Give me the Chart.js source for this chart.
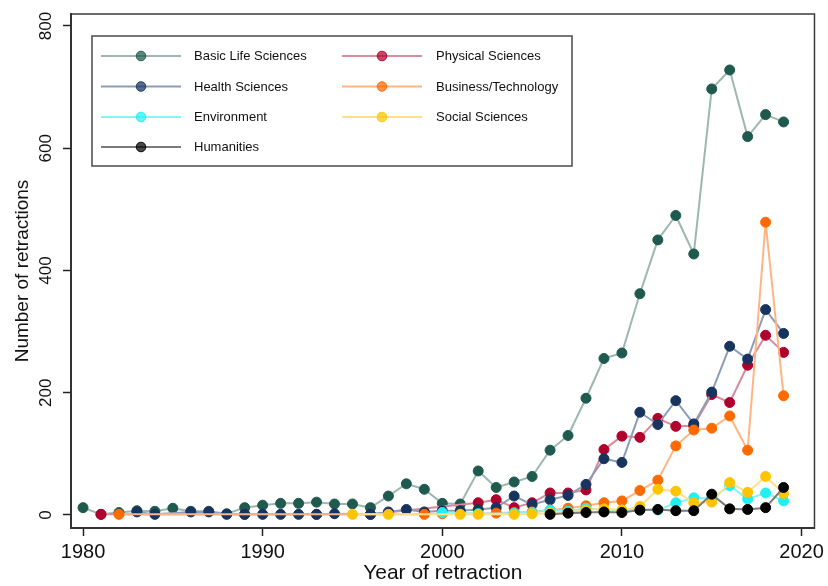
<!DOCTYPE html>
<html>
<head>
<meta charset="utf-8">
<script src="https://cdn.jsdelivr.net/npm/chart.js@4/dist/chart.umd.min.js"></script>
<style>
  html, body { margin: 0; padding: 0; background: #ffffff; }
  #wrap { width: 828px; height: 586px; }
</style>
</head>
<body>
<div id="wrap"><canvas id="c" width="828" height="586"></canvas></div>
<script>
// Retractions per year, by field (1980–2019). null = no retractions recorded that year.
const years = [1980,1981,1982,1983,1984,1985,1986,1987,1988,1989,
               1990,1991,1992,1993,1994,1995,1996,1997,1998,1999,
               2000,2001,2002,2003,2004,2005,2006,2007,2008,2009,
               2010,2011,2012,2013,2014,2015,2016,2017,2018,2019];

const basicLife = [12,1,4,7,6,11,6,6,2,12,
                   16,19,19,21,18,18,12,31,51,42,
                   19,18,72,45,54,63,106,130,191,256,
                   265,362,450,490,427,697,728,619,655,643];

const physical = [null,1,null,null,null,null,null,null,null,1,
                  null,null,null,1,null,null,1,null,null,null,
                  null,null,20,25,12,20,36,36,41,107,
                  129,127,158,145,146,197,184,245,294,266];

const health = [null,null,null,5,1,null,5,5,1,1,
                1,1,1,1,2,null,1,5,9,5,
                7,7,9,12,31,17,25,32,50,92,
                86,168,148,187,149,201,276,255,336,297];

const business = [null,null,1,null,null,null,null,null,null,null,
                  null,null,null,null,null,null,null,null,null,1,
                  2,null,null,3,4,5,8,11,15,20,
                  23,40,57,113,139,142,162,106,479,195];

const environment = [null,null,null,null,null,null,null,null,null,null,
                     null,null,null,null,null,null,null,null,null,null,
                     4,null,2,null,3,4,8,6,11,8,
                     8,8,8,20,28,27,48,26,36,23];

const social = [null,null,null,null,null,null,null,null,null,null,
                null,null,null,null,null,1,null,1,null,null,
                null,1,1,null,1,2,3,4,8,10,
                8,14,42,39,20,21,53,37,63,35];

const humanities = [null,null,null,null,null,null,null,null,null,null,
                    null,null,null,null,null,null,null,null,null,null,
                    null,null,null,null,null,null,1,3,4,5,
                    4,8,9,7,7,34,10,9,12,45];

const xTicks = [1980, 1990, 2000, 2010, 2020];
const yTicks = [0, 200, 400, 600, 800];

const FONT = '"Liberation Sans", Arial, Helvetica, sans-serif';

const series = [
  { label: 'Basic Life Sciences', values: basicLife,   marker: '#1f5a4e', line: '#9cb8b1' },
  { label: 'Physical Sciences',   values: physical,    marker: '#b0002c', line: '#d98b9c' },
  { label: 'Health Sciences',     values: health,      marker: '#17345e', line: '#8e9db6' },
  { label: 'Business/Technology', values: business,    marker: '#ff6a00', line: '#ffb583' },
  { label: 'Environment',         values: environment, marker: '#22f0f0', line: '#84f6f6' },
  { label: 'Social Sciences',     values: social,      marker: '#ffc400', line: '#ffe08a' },
  { label: 'Humanities',          values: humanities,  marker: '#000000', line: '#7b7b7b' }
];

const datasets = series.map((s, i) => ({
  label: s.label,
  data: years.map((yr, k) => ({ x: yr, y: s.values[k] })).filter(p => p.y !== null),
  borderColor: s.line,
  backgroundColor: s.marker,
  borderWidth: 2,
  pointRadius: 5,
  pointBorderWidth: 1,
  pointBorderColor: s.marker,
  pointBackgroundColor: s.marker,
  pointHoverRadius: 5,
  tension: 0,
  order: series.length - i,
  legendMarker: s.marker,
  legendLine: s.line
}));

function hexA(hex, a) {
  const n = parseInt(hex.slice(1), 16);
  return `rgba(${(n >> 16) & 255},${(n >> 8) & 255},${n & 255},${a})`;
}

// Plot frame plus a two-column legend box in the upper left.
const framePlugin = {
  id: 'frameAndLegend',
  afterDraw(chart) {
    const ctx = chart.ctx;
    const a = chart.chartArea;
    ctx.save();
    ctx.strokeStyle = '#3a3a3a';
    ctx.lineWidth = 1.5;
    ctx.strokeRect(a.left, a.top, a.right - a.left, a.bottom - a.top);

    // legend box
    const bx = 92, by = 36, bw = 480, bh = 130;
    ctx.fillStyle = '#ffffff';
    ctx.fillRect(bx, by, bw, bh);
    ctx.strokeStyle = '#555555';
    ctx.lineWidth = 1.6;
    ctx.strokeRect(bx, by, bw, bh);

    const rows = [56, 86.5, 117, 147];
    const cols = [{ l0: 101, l1: 181, c: 141, t: 194 }, { l0: 342, l1: 422, c: 382, t: 436 }];
    ctx.font = '13px ' + FONT;
    ctx.textBaseline = 'middle';
    ctx.textAlign = 'left';
    chart.data.datasets.forEach((ds, i) => {
      const col = cols[i % 2];
      const y = rows[Math.floor(i / 2)];
      ctx.strokeStyle = ds.legendLine;
      ctx.lineWidth = 2;
      ctx.beginPath();
      ctx.moveTo(col.l0, y);
      ctx.lineTo(col.l1, y);
      ctx.stroke();
      ctx.beginPath();
      ctx.arc(col.c, y, 4.8, 0, Math.PI * 2);
      ctx.fillStyle = hexA(ds.legendMarker, 0.72);
      ctx.fill();
      ctx.lineWidth = 1;
      ctx.strokeStyle = hexA(ds.legendMarker, 0.9);
      ctx.stroke();
      ctx.fillStyle = '#111111';
      ctx.fillText(ds.label, col.t, y + 0.5);
    });
    ctx.restore();
  }
};

new Chart(document.getElementById('c'), {
  type: 'line',
  data: { datasets },
  plugins: [framePlugin],
  options: {
    responsive: false,
    animation: false,
    devicePixelRatio: 1,
    layout: { padding: { left: 0, top: 14, right: 12, bottom: 0 } },
    plugins: { legend: { display: false }, tooltip: { enabled: false } },
    elements: { line: { borderCapStyle: 'round', borderJoinStyle: 'round' } },
    scales: {
      x: {
        type: 'linear',
        min: 1979.33,
        max: 2020.72,
        afterBuildTicks: s => { s.ticks = xTicks.map(v => ({ value: v })); },
        afterFit: s => { s.height = 58; },
        ticks: {
          callback: v => String(v),
          font: { family: FONT, size: 20 },
          color: '#111111',
          padding: 4,
          maxRotation: 0,
          autoSkip: false
        },
        grid: { display: true, drawOnChartArea: false, drawTicks: true, tickLength: 8, tickColor: '#222222', tickWidth: 1.5 },
        border: { display: true, color: '#222222', width: 2 },
        title: { display: true, text: 'Year of retraction', font: { family: FONT, size: 21 }, color: '#111111', padding: { top: 0, bottom: 0 } }
      },
      y: {
        type: 'linear',
        min: -21.3,
        max: 819.6,
        afterBuildTicks: s => { s.ticks = yTicks.map(v => ({ value: v })); },
        afterFit: s => { s.width = 71; },
        ticks: {
          callback: v => String(v),
          font: { family: FONT, size: 17 },
          color: '#111111',
          minRotation: 90,
          maxRotation: 90,
          crossAlign: 'center',
          padding: 3
        },
        grid: { display: true, drawOnChartArea: false, drawTicks: true, tickLength: 8, tickColor: '#222222', tickWidth: 1.5 },
        border: { display: true, color: '#222222', width: 2 },
        title: { display: true, text: 'Number of retractions', font: { family: FONT, size: 19 }, color: '#111111', padding: { top: 11, bottom: 0 } }
      }
    }
  }
});
</script>
</body>
</html>
